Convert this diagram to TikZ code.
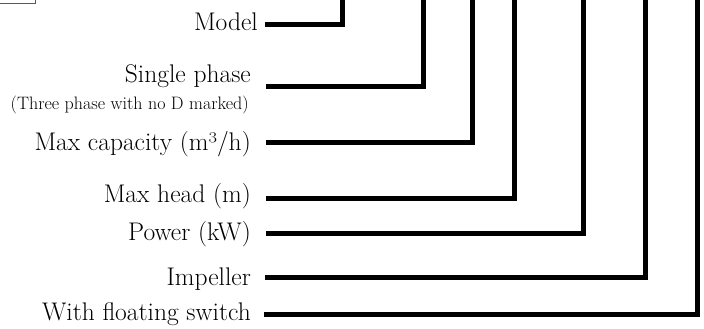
\documentclass[tikz,border=0pt]{standalone}
\usepackage{fontspec}
\begin{document}
\begin{tikzpicture}[x=1pt,y=-1pt,
  lbl/.style={anchor=base east,inner sep=0pt,font=\fontsize{25.5}{28}\selectfont},
  sublbl/.style={anchor=base east,inner sep=0pt,font=\fontsize{18}{20}\selectfont},
  lead/.style={line width=5pt,black,line join=miter}]
\useasboundingbox (0,0) rectangle (704,329);
% clipped corner of a box at top left
\draw[gray!70!black,line width=1pt] (0,3.5) -| (35,-2);
% labels
\node[lbl] (mdl) at (258,30.5) {Model};
\node[lbl] (sgl) at (251,82) {Single phase};
\node[sublbl] (thr) at (249,110) {(Three phase with no D marked)};
\node[lbl] (cap) at (251,150) {Max capacity (m³/h)};
\node[lbl] (hd) at (251,202) {Max head (m)};
\node[lbl] (pw) at (251,240) {Power (kW)};
\node[lbl] (imp) at (251,285) {Impeller};
\node[lbl] (flt) at (251,320.5) {With floating switch};
% leader start points and top ends
\coordinate (s1) at (265,24.5);  \coordinate (t1) at (342.5,-5);
\coordinate (s2) at (266,86);    \coordinate (t2) at (423,-5);
\coordinate (s3) at (266,142.5); \coordinate (t3) at (472.3,-5);
\coordinate (s4) at (266,198);   \coordinate (t4) at (514.5,-5);
\coordinate (s5) at (266,233.3); \coordinate (t5) at (583.7,-5);
\coordinate (s6) at (265,277.5); \coordinate (t6) at (645.5,-5);
\coordinate (s7) at (264,314.5); \coordinate (t7) at (697,-5);
\foreach \i in {1,...,7} { \draw[lead] (s\i) -| (t\i); }
\end{tikzpicture}
\end{document}
